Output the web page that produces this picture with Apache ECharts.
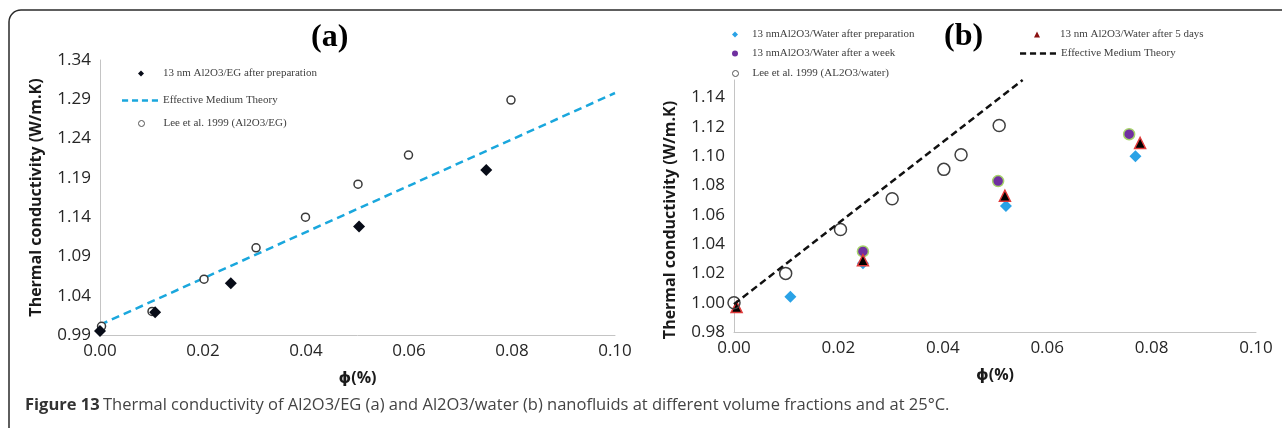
<!DOCTYPE html>
<html>
<head>
<meta charset="utf-8">
<script src="https://cdn.jsdelivr.net/npm/echarts@6/dist/echarts.min.js"></script>
<style>
html,body{margin:0;padding:0;background:#fff;}
#chart{width:1282px;height:428px;}
</style>
</head>
<body>
<div id="chart"></div>
<script>
// ---------- Panel (a): Al2O3/EG ----------
const aXTicks = [0, 0.10, 0.02];           // min, max, interval
const aYTicks = [0.99, 1.34, 0.05];
const aEgPrep = [[0, 0.995], [0.0107, 1.019], [0.0254, 1.056], [0.0503, 1.128], [0.075, 1.200]];
const aLee = [[0.0003, 1.001], [0.0101, 1.020], [0.0202, 1.061], [0.0303, 1.101], [0.0399, 1.140], [0.0501, 1.182], [0.0599, 1.219], [0.0798, 1.289]];
const aEmt = [[0, 1.003], [0.10, 1.298]];

// ---------- Panel (b): Al2O3/water ----------
const bXTicks = [0, 0.10, 0.02];
const bYTicks = [0.98, 1.152, 0.02];
const bPrep = [[0.0108, 1.004], [0.0247, 1.027], [0.0521, 1.066], [0.0769, 1.100]];
const bWeek = [[0.0247, 1.035], [0.0506, 1.083], [0.0757, 1.115]];
const bFiveDays = [[0.0005, 0.997], [0.0247, 1.029], [0.0519, 1.073], [0.0778, 1.109]];
const bLee = [[0, 1.000], [0.0099, 1.020], [0.0204, 1.050], [0.0303, 1.071], [0.0402, 1.091], [0.0435, 1.101], [0.0508, 1.121]];
const bEmt = [[0, 0.999], [0.0553, 1.152]];

const names = {
  aPrep: '13 nm Al2O3/EG after preparation',
  aEmt: 'Effective Medium Theory',
  aLee: 'Lee et al. 1999 (Al2O3/EG)',
  bPrep: '13 nmAl2O3/Water after preparation',
  bWeek: '13 nmAl2O3/Water after a week',
  bLee: 'Lee et al. 1999 (AL2O3/water)',
  bFive: '13 nm Al2O3/Water after 5 days',
  bEmt: 'Effective Medium Theory '
};
const caption = 'Thermal conductivity of Al2O3/EG (a) and Al2O3/water (b) nanofluids at different volume fractions and at 25°C.';

const chart = echarts.init(document.getElementById('chart'), null, {renderer: 'canvas'});

const tickFont = {fontFamily: '"Open Sans", "Liberation Sans", sans-serif', fontSize: 17, color: '#262626'};
const nameFont = {fontFamily: '"Open Sans", "DejaVu Sans", sans-serif', fontSize: 16, fontWeight: 'bold', color: '#1a1a1a'};
const axisLine = {show: true, lineStyle: {color: '#c4c4c4', width: 1}};
const dashIcon = 'path://M0,0h8v3h-8zM13,0h8v3h-8zM26,0h8v3h-8zM39,0h8v3h-8z';

function yAxis(ticks, grid, shift) {
  return {
    type: 'value', gridIndex: grid, min: ticks[0], max: ticks[1], interval: ticks[2],
    axisLine: axisLine, axisTick: {show: false}, splitLine: {show: false},
    axisLabel: Object.assign({margin: 9, showMaxLabel: grid === 0, formatter: v => v.toFixed(2)}, tickFont),
    name: 'Thermal conductivity (W/m.K)', nameLocation: 'middle', nameRotate: 90, nameGap: 56,
    nameTextStyle: Object.assign({padding: [0, shift, 0, 0]}, nameFont)
  };
}
function xAxis(ticks, grid) {
  return {
    type: 'value', gridIndex: grid, min: ticks[0], max: ticks[1], interval: ticks[2],
    axisLine: axisLine, axisTick: {show: false}, splitLine: {show: false},
    axisLabel: Object.assign({margin: 8, formatter: v => v.toFixed(2)}, tickFont),
    name: 'ϕ(%)', nameLocation: 'middle', nameGap: 35, nameTextStyle: nameFont
  };
}
function leg(name, icon, left, top, w, h, pad, style) {
  return {
    data: [{name: name, icon: icon}], left: left, top: top, orient: 'vertical', itemWidth: w, itemHeight: h,
    itemGap: 0, padding: 0, selectedMode: false, itemStyle: style || {borderWidth: 0},
    textStyle: {fontFamily: '"Liberation Serif", "Times New Roman", serif', fontSize: 11, color: '#404040', padding: [0, 0, 0, pad]}
  };
}
const openIcon = {color: '#ffffff', borderColor: '#555555', borderWidth: 1};

chart.setOption({
  animation: false,
  backgroundColor: '#ffffff',
  grid: [
    {left: 100, right: 667, top: 60, bottom: 93},
    {left: 734, right: 26, top: 80, bottom: 96}
  ],
  xAxis: [xAxis(aXTicks, 0), xAxis(bXTicks, 1)],
  yAxis: [yAxis(aYTicks, 0, 0), yAxis(bYTicks, 1, 28)],
  legend: [
    leg(names.aPrep, 'diamond', 138, 68, 6, 6, 14),
    leg(names.aEmt, dashIcon, 122, 95, 36, 3, 0),
    leg(names.aLee, 'circle', 138, 118, 6, 6, 14, openIcon),
    leg(names.bPrep, 'diamond', 732, 29, 6, 6, 9),
    leg(names.bWeek, 'circle', 732, 48, 6, 6, 9),
    leg(names.bLee, 'circle', 732, 68, 6, 6, 9, openIcon),
    leg(names.bFive, 'triangle', 1034, 29, 6, 6, 15, {color: '#8a1010', borderWidth: 0}),
    leg(names.bEmt, dashIcon, 1020, 48, 36, 3, 0)
  ],
  series: [
    {name: names.aEmt, type: 'line', xAxisIndex: 0, yAxisIndex: 0, data: aEmt, symbol: 'none',
     lineStyle: {color: '#1aa7dd', width: 2.5, type: [8, 5]}, itemStyle: {color: '#1aa7dd'}, z: 2},
    {name: names.aLee, type: 'scatter', xAxisIndex: 0, yAxisIndex: 0, data: aLee, symbol: 'circle', symbolSize: 8,
     itemStyle: {color: '#ffffff', borderColor: '#3a3a3a', borderWidth: 1.5, opacity: 1}, z: 3},
    {name: names.aPrep, type: 'scatter', xAxisIndex: 0, yAxisIndex: 0, data: aEgPrep, symbol: 'diamond', symbolSize: 12,
     itemStyle: {color: '#080c18', opacity: 1}, z: 4},

    {name: names.bPrep, type: 'scatter', xAxisIndex: 1, yAxisIndex: 1, data: bPrep, symbol: 'diamond', symbolSize: 12,
     itemStyle: {color: '#2aa2e6', opacity: 1}, z: 3},
    {name: names.bWeek, type: 'scatter', xAxisIndex: 1, yAxisIndex: 1, data: bWeek, symbol: 'circle', symbolSize: 11,
     itemStyle: {color: '#7030a0', borderColor: '#a6d46a', borderWidth: 1.5, opacity: 1}, z: 3},
    {name: names.bFive, type: 'scatter', xAxisIndex: 1, yAxisIndex: 1, data: bFiveDays, symbol: 'triangle', symbolSize: 11,
     itemStyle: {color: '#000000', borderColor: '#e03a3a', borderWidth: 1.5, opacity: 1}, z: 4},
    {name: names.bLee, type: 'scatter', xAxisIndex: 1, yAxisIndex: 1, data: bLee, symbol: 'circle', symbolSize: 12,
     itemStyle: {color: 'rgba(255,255,255,0)', borderColor: '#404040', borderWidth: 1.5, opacity: 1}, z: 5},
    {name: names.bEmt, type: 'line', xAxisIndex: 1, yAxisIndex: 1, data: bEmt, symbol: 'none',
     lineStyle: {color: '#111111', width: 2.5, type: [7, 4]}, itemStyle: {color: '#111111'}, z: 6}
  ],
  graphic: [
    {type: 'rect', silent: true, shape: {x: 9, y: 10, width: 1400, height: 600, r: 12},
     style: {fill: 'none', stroke: '#2a2a2a', lineWidth: 1.5}},
    {type: 'text', left: 311, top: 22, style: {text: '(a)', font: 'bold 32px "Liberation Serif", serif', fill: '#000'}},
    {type: 'text', left: 944, top: 21, style: {text: '(b)', font: 'bold 32px "Liberation Serif", serif', fill: '#000'}},
    {type: 'text', left: 25, top: 397, style: {
      text: '{b|Figure 13} {r|' + caption + '}',
      rich: {
        b: {fontFamily: '"Open Sans", sans-serif', fontWeight: 'bold', fontSize: 16.5, fill: '#333'},
        r: {fontFamily: '"Open Sans", sans-serif', fontSize: 16.5, fill: '#444'}
      }
    }}
  ]
});
</script>
</body>
</html>
